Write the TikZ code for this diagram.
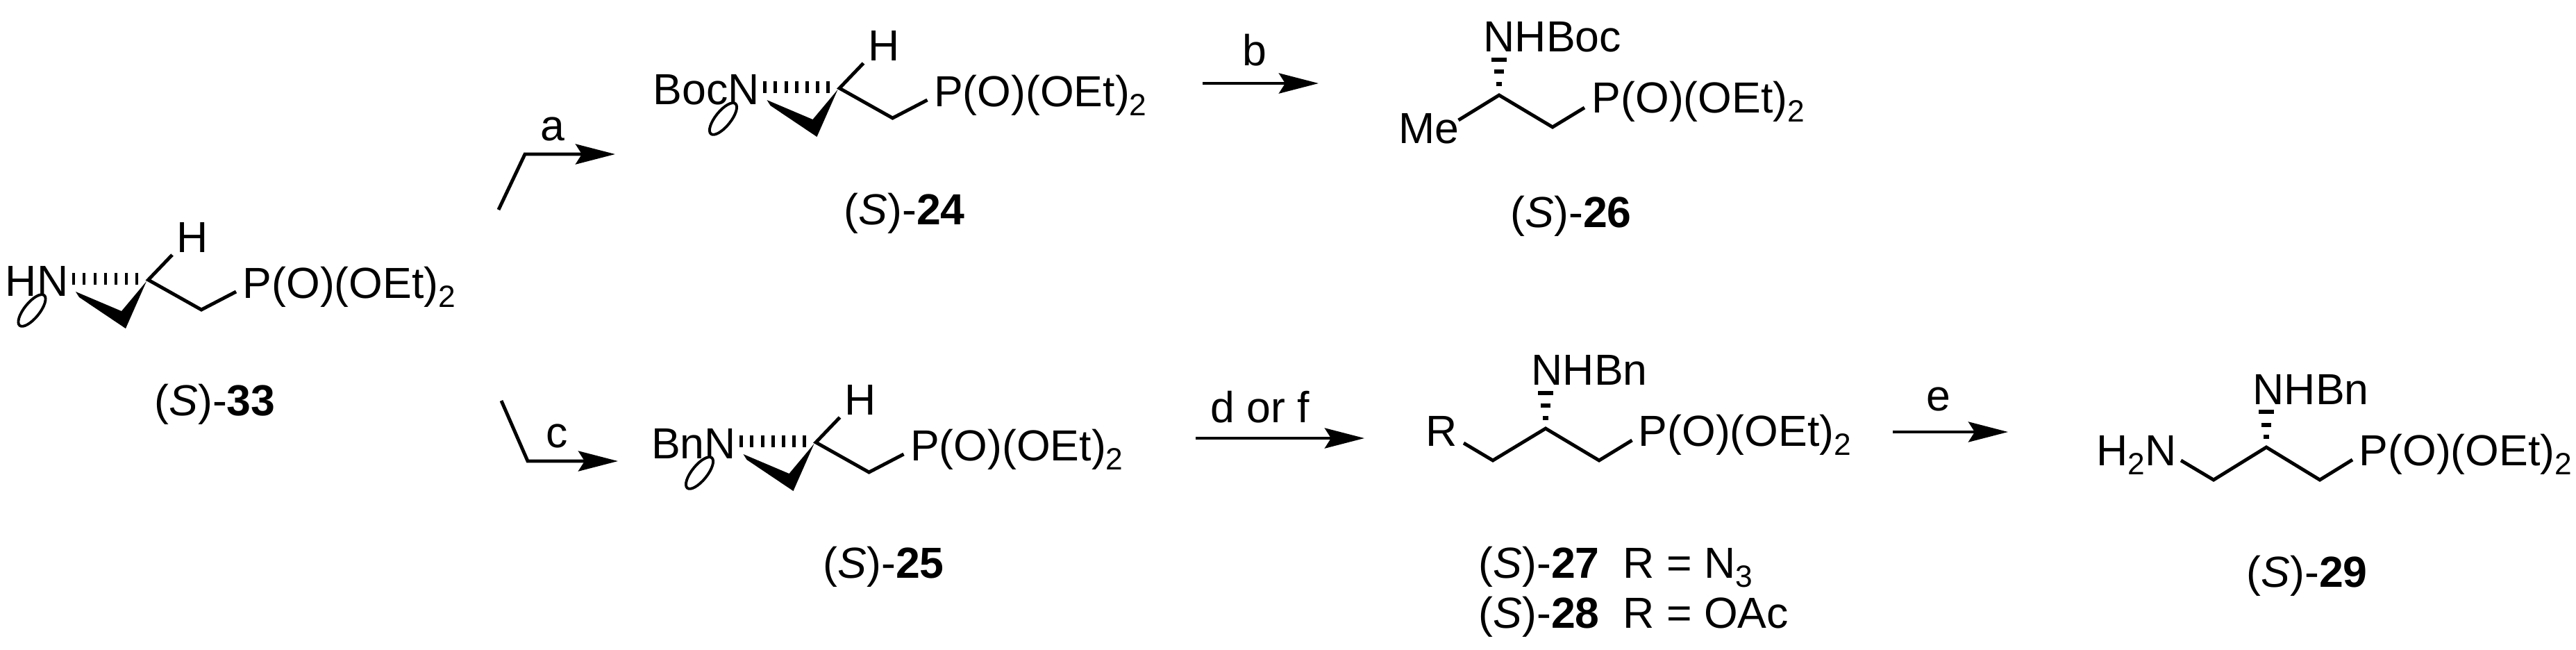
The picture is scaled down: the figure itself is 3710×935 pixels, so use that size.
\documentclass[tikz,border=0pt]{standalone}
\usepackage{fontspec}
\setmainfont{Liberation Sans}
\usetikzlibrary{arrows.meta}
\newcommand{\subtwo}[1]{\raisebox{-3.7pt}{\fontsize{12.6}{12}\selectfont #1}}
\newcommand{\phos}{P(O)(OEt)\subtwo{2}}
\tikzset{
	chem/.style={inner sep=0pt, anchor=base west, font=\fontsize{17.8}{20}\selectfont},
	bond/.style={line width=1.4pt, line join=miter},
	hash/.style={line width=1.3pt},
	rxn/.style={line width=1.4pt, -{Stealth[length=5.7mm, width=2.9mm, inset=0.9mm]}}
}
\begin{document}
\begin{tikzpicture}[x=0.01cm, y=-0.01cm]
	\useasboundingbox (0, 0) rectangle (3710, 935);

	% aziridines
	\foreach \nm/\ox/\oy/\grp in {33/0/0/HN, 24/995.5/-276/BocN, 25/961.5/234/BnN} {
		\begin{scope}[shift={(\ox, \oy)}]
			\node[chem, anchor=base east] (n\nm) at (99, 426) {\grp};
			\node[chem] (h\nm) at (254, 363) {H};
			\node[chem] (p\nm) at (349, 429) {\phos};
			\coordinate (c\nm) at (213.5, 403);
			\coordinate (ha\nm) at (248, 367);
			\coordinate (m\nm) at (290, 446);
			\coordinate (pa\nm) at (340, 420);
			\draw[bond] (ha\nm) -- (c\nm) -- (m\nm) -- (pa\nm);
			\foreach \x in {106, 121, 137, 152, 167, 182, 197}
				\draw[hash] (\x, 393) -- (\x, 410);
			\fill (109, 420) -- (114, 428) -- (181, 473) -- (211, 405) -- (175, 448) -- cycle;
			\draw[line width=1.1pt, rotate around={51:(46, 447)}] (46, 447) ellipse [x radius=28, y radius=11];
		\end{scope}
	}

	% open chain products
	\node[chem] (boc26) at (2136, 74) {NHBoc};
	\node[chem] (me26) at (2014, 206) {Me};
	\node[chem] (p26) at (2292, 162) {\phos};
	\draw[bond] (2100.5, 173) coordinate (a26) -- (2159, 137) coordinate (c26)
		-- (2236, 183) coordinate (m26) -- (2282, 155) coordinate (b26);

	\node[chem] (r27) at (2053, 642) {R};
	\node[chem] (bn27) at (2205, 554) {NHBn};
	\node[chem] (p27) at (2359, 642) {\phos};
	\draw[bond] (2108, 638) coordinate (a27) -- (2150, 663) coordinate (l27) -- (2226, 617) coordinate (c27)
		-- (2303, 663) coordinate (m27) -- (2350.5, 634) coordinate (b27);

	\node[chem] (n29) at (3019, 670) {H\subtwo{2}N};
	\node[chem] (bn29) at (3244, 582) {NHBn};
	\node[chem] (p29) at (3397, 670) {\phos};
	\draw[bond] (3141, 663) coordinate (a29) -- (3188, 691) coordinate (l29) -- (3264, 644) coordinate (c29)
		-- (3341, 691) coordinate (m29) -- (3388, 662) coordinate (b29);

	% hashed bonds
	\foreach \cx/\ya/\yb/\yc in {2159/86/103/121, 2226/566/584/602, 3264/593/612/629} {
		\draw[line width=1.5pt] (\cx - 11, \ya) -- (\cx + 11, \ya);
		\draw[line width=1.5pt] (\cx - 7, \yb) -- (\cx + 7, \yb);
		\draw[line width=1.5pt] (\cx - 4, \yc) -- (\cx + 4, \yc);
	}

	% arrows
	\coordinate (a0) at (718, 302);
	\coordinate (a1) at (756, 222);
	\coordinate (a2) at (886, 222);
	\draw[rxn] (a0) -- (a1) -- (a2);
	\node[chem, anchor=base] (la) at (796, 202) {a};
	\coordinate (c0) at (722, 577);
	\coordinate (c1) at (760, 664);
	\coordinate (c2) at (890, 664);
	\draw[rxn] (c0) -- (c1) -- (c2);
	\node[chem, anchor=base] (lc) at (802, 644) {c};
	\coordinate (b0) at (1732, 120);
	\coordinate (b1) at (1899, 120);
	\draw[rxn] (b0) -- (b1);
	\node[chem, anchor=base] (lb) at (1807, 94) {b};
	\coordinate (d0) at (1722, 631);
	\coordinate (d1) at (1965, 631);
	\draw[rxn] (d0) -- (d1);
	\node[chem, anchor=base] (ld) at (1815, 608) {d or f};
	\coordinate (e0) at (2726, 622);
	\coordinate (e1) at (2892, 622);
	\draw[rxn] (e0) -- (e1);
	\node[chem, anchor=base] (le) at (2792, 591) {e};

	% compound labels
	\foreach \nm/\lx/\ly in {33/222/598, 24/1215/323, 26/2175/327, 25/1185/832, 27/2129/832, 28/2129/904, 29/3235/845}
		\node[chem] (l\nm) at (\lx, \ly) {(\textit{S})-\textbf{\nm}};
	\node[chem] (r27b) at (2337, 832) {R = N\subtwo{3}};
	\node[chem] (r28b) at (2337, 904) {R = OAc};
\end{tikzpicture}
\end{document}
